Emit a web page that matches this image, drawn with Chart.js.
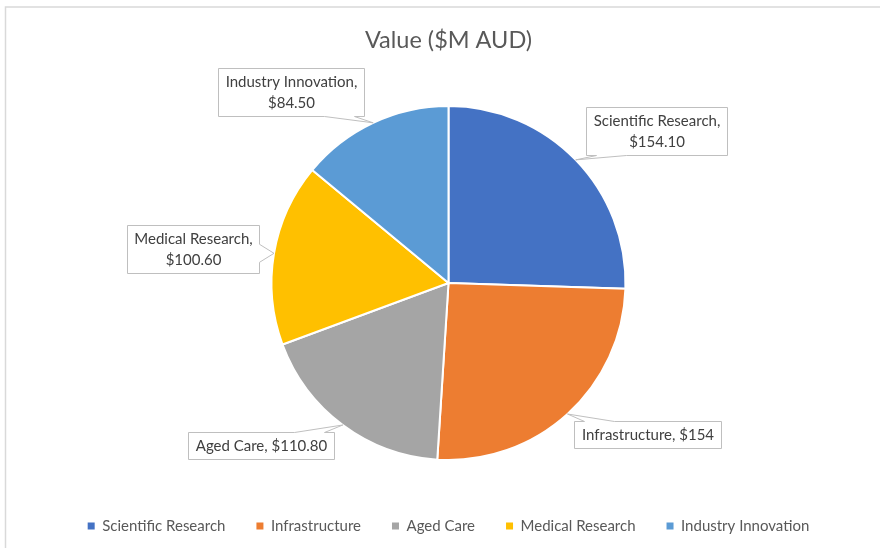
<!DOCTYPE html>
<html><head><meta charset="utf-8">
<script src="https://cdn.jsdelivr.net/npm/chart.js@4.4.0/dist/chart.umd.min.js"></script>
<style>html,body{margin:0;padding:0;background:#fff;} #wrap{width:880px;height:548px;position:relative;}</style>
</head><body><div id="wrap"><canvas id="c" width="880" height="548"></canvas></div>
<script>
const categories = ["Scientific Research","Infrastructure","Aged Care","Medical Research","Industry Innovation"];
const values = [154.10, 154, 110.80, 100.60, 84.50];
const valueLabels = ["$154.10","$154","$110.80","$100.60","$84.50"];
const colors = ["#4472C4","#ED7D31","#A5A5A5","#FFC000","#5B9BD5"];
const chartTitle = "Value ($M AUD)";

const FONT = "Lato, 'Open Sans', sans-serif";

const framePlugin = {
  id: 'frame',
  beforeDraw(chart) {
    const ctx = chart.ctx;
    ctx.save();
    ctx.strokeStyle = '#D9D9D9';
    ctx.lineWidth = 1.5;
    ctx.beginPath();
    ctx.moveTo(880, 7);
    ctx.lineTo(5.5, 7);
    ctx.lineTo(5.5, 548);
    ctx.stroke();
    ctx.restore();
  }
};

const calloutPlugin = {
  id: 'callouts',
  afterDatasetsDraw(chart, args, opts) {
    const ctx = chart.ctx;
    const meta = chart.getDatasetMeta(0);
    ctx.save();
    ctx.font = opts.fontSize + 'px ' + FONT;
    ctx.textAlign = 'center';
    ctx.textBaseline = 'middle';
    meta.data.forEach((arc, i) => {
      const p = arc.getProps(['x','y','startAngle','endAngle','outerRadius'], true);
      const mid = (p.startAngle + p.endAngle) / 2;
      const tip = {x: p.x + Math.cos(mid) * p.outerRadius, y: p.y + Math.sin(mid) * p.outerRadius};
      const name = chart.data.labels[i];
      const lines = name.length > 14 ? [name + ',', valueLabels[i]] : [name + ', ' + valueLabels[i]];
      const w = Math.max(...lines.map(l => ctx.measureText(l).width)) + opts.padX * 2;
      const h = lines.length * opts.lineH + opts.padY * 2;
      const off = opts.offsets[i];
      const cx = tip.x + off[0], cy = tip.y + off[1];
      const L = Math.round(cx - w/2) + 0.5, R = Math.round(cx + w/2) + 0.5;
      const T = Math.round(cy - h/2) + 0.5, B = Math.round(cy + h/2) + 0.5;
      const hw = opts.wedge / 2;
      const clamp = (v, a, b) => Math.max(a, Math.min(b, v));
      ctx.beginPath();
      ctx.moveTo(L, T);
      if (tip.y < T) {
        const c = clamp(tip.x, L + 25, R - 25);
        ctx.lineTo(c - hw, T); ctx.lineTo(tip.x, tip.y); ctx.lineTo(c + hw, T);
      }
      ctx.lineTo(R, T);
      if (tip.y >= T && tip.y <= B && tip.x > R) {
        const c = clamp(tip.y, T + 12, B - 10);
        ctx.lineTo(R, c - hw * 0.6); ctx.lineTo(tip.x, tip.y); ctx.lineTo(R, c + hw * 0.6);
      }
      ctx.lineTo(R, B);
      if (tip.y > B) {
        const c = clamp(tip.x, L + 25, R - 25);
        ctx.lineTo(c + hw, B); ctx.lineTo(tip.x, tip.y); ctx.lineTo(c - hw, B);
      }
      ctx.lineTo(L, B);
      if (tip.y >= T && tip.y <= B && tip.x < L) {
        const c = clamp(tip.y, T + 12, B - 10);
        ctx.lineTo(L, c + hw * 0.6); ctx.lineTo(tip.x, tip.y); ctx.lineTo(L, c - hw * 0.6);
      }
      ctx.closePath();
      ctx.fillStyle = '#FFFFFF';
      ctx.fill();
      ctx.strokeStyle = '#BFBFBF';
      ctx.lineWidth = 1;
      ctx.stroke();
      ctx.fillStyle = '#404040';
      const x0 = (L + R) / 2;
      const y0 = (T + B) / 2 - (lines.length - 1) * opts.lineH / 2;
      lines.forEach((l, k) => ctx.fillText(l, x0, y0 + k * opts.lineH));
    });
    ctx.restore();
  }
};

new Chart(document.getElementById('c'), {
  type: 'pie',
  data: {
    labels: categories,
    datasets: [{
      data: values,
      backgroundColor: colors,
      borderColor: '#FFFFFF',
      borderWidth: 2
    }]
  },
  options: {
    responsive: false,
    animation: false,
    events: [],
    radius: 177,
    layout: { padding: { top: 10, left: 17, right: 0, bottom: 4.5 } },
    plugins: {
      tooltip: { enabled: false },
      title: {
        display: true,
        text: chartTitle,
        color: '#595959',
        font: { family: FONT, size: 23.5, weight: 'normal' },
        padding: { top: 15.9, bottom: 24.4 }
      },
      legend: {
        position: 'bottom',
        labels: {
          boxWidth: 7,
          boxHeight: 7,
          padding: 31,
          color: '#595959',
          font: { family: FONT, size: 15 },
          generateLabels(chart) {
            const items = Chart.overrides.pie.plugins.legend.labels.generateLabels(chart);
            items.forEach(it => { it.lineWidth = 0; it.strokeStyle = 'rgba(0,0,0,0)'; });
            return items;
          }
        }
      },
      callouts: {
        fontSize: 15,
        lineH: 21,
        padX: 7,
        padY: 3,
        wedge: 30,
        offsets: [[81, -29], [80, 20], [-82, 20.5], [-81, -4], [-82.5, -30.5]]
      }
    }
  },
  plugins: [framePlugin, calloutPlugin]
});
</script>
</body></html>
